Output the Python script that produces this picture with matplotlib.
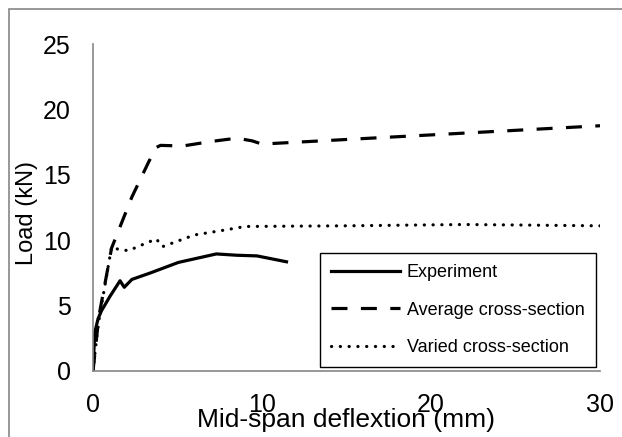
import matplotlib
matplotlib.use('Agg')
import matplotlib.pyplot as plt
from matplotlib.patches import Rectangle

plt.rcParams['font.family'] = ['Liberation Sans', 'DejaVu Sans']

# data
exp_x = [0, 0.1, 0.3, 0.5, 1.0, 1.6, 1.85, 2.3, 3.4, 5.05, 7.3, 8.5, 9.7, 11.45]
exp_y = [0, 2.9, 4.0, 4.6, 5.7, 6.9, 6.4, 7.0, 7.5, 8.3, 8.95, 8.85, 8.8, 8.35]

avg_x = [0, 0.35, 1.1, 2.3, 3.3, 3.75, 4.0, 5.3, 7.0, 8.5, 9.4, 10.0, 30]
avg_y = [0, 4.2, 9.4, 13.3, 16.0, 17.1, 17.25, 17.2, 17.55, 17.8, 17.6, 17.35, 18.75]

var_x = [0, 0.3, 1.1, 1.5, 2.1, 3.0, 3.75, 4.1, 6.0, 7.9, 9.0, 15, 22, 30]
var_y = [0, 3.5, 9.5, 9.3, 9.2, 9.7, 10.1, 9.5, 10.4, 10.8, 11.05, 11.1, 11.2, 11.1]

x_ticks = [0, 10, 20, 30]
y_ticks = [0, 5, 10, 15, 20, 25]

W, H = 622, 437
fig = plt.figure(figsize=(W / 100, H / 100), dpi=100)
ax = fig.add_axes([93 / W, 1 - 371 / H, 507 / W, 327 / H])

ax.plot(exp_x, exp_y, color='black', lw=2.3, solid_joinstyle='round', label='Experiment')
ax.plot(avg_x, avg_y, color='black', lw=2.3, dashes=(5, 4.2), label='Average cross-section')
ax.plot(var_x, var_y, color='black', lw=2.3, dashes=(0.05, 2.7), dash_capstyle='round',
        label='Varied cross-section')

ax.set_xlim(0, 30)
ax.set_ylim(0, 25)
ax.set_xticks(x_ticks)
ax.set_yticks(y_ticks)
ax.tick_params(length=0, labelsize=18, pad=16)
for s in ['top', 'right']:
    ax.spines[s].set_visible(False)
for s in ['left', 'bottom']:
    ax.spines[s].set_color('#868686')
    ax.spines[s].set_linewidth(1.2)

leg = ax.legend(loc='lower right', bbox_to_anchor=(0.992, 0.012), fontsize=13,
                handlelength=3.8, handletextpad=0.4, labelspacing=1.12,
                borderpad=0.62, borderaxespad=0, fancybox=False, edgecolor='black',
                framealpha=1)
leg.get_frame().set_linewidth(1.0)

fig.text(346 / W, 1 - 420 / H, 'Mid-span deflextion (mm)', fontsize=19, ha='center', va='center')
fig.text(27 / W, 1 - 213 / H, 'Load (kN)', fontsize=17, rotation=90, ha='center', va='center')

fig.patches.append(Rectangle((9 / W, -0.1), 1.2, 1 - 9 / H + 0.1, transform=fig.transFigure,
                             fill=False, edgecolor='#868686', lw=1.2))

fig.savefig('out.png', dpi=100)
